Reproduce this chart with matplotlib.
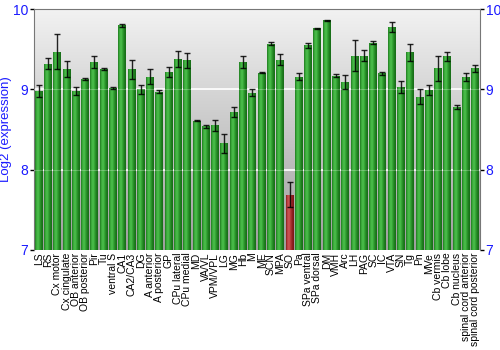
import numpy as np
import matplotlib
matplotlib.use("Agg")
import matplotlib.pyplot as plt
from matplotlib.colors import LinearSegmentedColormap

plt.rcParams["font.family"] = ["Liberation Sans", "DejaVu Sans"]

regions = [
    "LS", "RS", "Cx motor", "Cx cingulate", "OB anterior", "OB posterior",
    "Pir", "Tu", "ventral S", "CA1", "CA2/CA3", "DG", "A anterior",
    "A posterior", "GP", "CPu lateral", "CPu medial", "MD", "VA/VL",
    "VPM/VPL", "LG", "MG", "Hb", "M", "ME", "SCN", "MPA", "SO", "Pa",
    "SPa ventral", "SPa dorsal", "DM", "VMH", "Arc", "LH", "PAG", "SC",
    "IC", "VTA", "SN", "Tg", "Pn", "MVe", "Cb vermis", "Cb lobe",
    "Cb nucleus", "spinal cord anterior", "spinal cord posterior",
]
expression = [
    8.98, 9.32, 9.47, 9.25, 8.98, 9.13, 9.34, 9.25, 9.02, 9.80, 9.25, 9.00,
    9.16, 8.97, 9.22, 9.38, 9.36, 8.61, 8.54, 8.55, 8.33, 8.72, 9.34, 8.96,
    9.21, 9.57, 9.37, 7.69, 9.16, 9.55, 9.76, 9.86, 9.17, 9.09, 9.42, 9.42,
    9.58, 9.20, 9.78, 9.03, 9.46, 8.91, 8.99, 9.26, 9.41, 8.78, 9.16, 9.26,
]
errors = [
    0.07, 0.07, 0.22, 0.10, 0.05, 0.01, 0.08, 0.01, 0.01, 0.02, 0.12, 0.06,
    0.09, 0.02, 0.06, 0.10, 0.09, 0.01, 0.02, 0.07, 0.12, 0.06, 0.07, 0.04,
    0.01, 0.02, 0.07, 0.16, 0.04, 0.03, 0.01, 0.01, 0.02, 0.09, 0.19, 0.07,
    0.02, 0.02, 0.06, 0.08, 0.11, 0.09, 0.06, 0.15, 0.06, 0.02, 0.05, 0.04,
]
highlight = "SO"

blue = "#1a1aff"
green_cmap = LinearSegmentedColormap.from_list(
    "g", ["#1f7a1f", "#3fb03f", "#4cc04c", "#33a033", "#1e7f1e", "#176a17"])
red_cmap = LinearSegmentedColormap.from_list(
    "r", ["#8a1c1c", "#c44a4a", "#cc5555", "#b03535", "#8e2020", "#7a1616"])
bg_cmap = LinearSegmentedColormap.from_list("bg", ["#9e9e9e", "#f2f2f2"])

fig = plt.figure(figsize=(5, 3.5), dpi=100)
ax = fig.add_axes([0.068, 0.286, 0.892, 0.688])

x = np.arange(len(regions))
ax.set_xlim(-0.5, len(regions) - 0.5)
ax.set_ylim(7, 10)

# gray vertical gradient background
grad = np.linspace(0, 1, 256).reshape(-1, 1)
ax.imshow(grad, cmap=bg_cmap, aspect="auto", origin="lower",
          extent=(-0.5, len(regions) - 0.5, 7, 10), zorder=0)

for yv in (8, 9):
    ax.axhline(yv, color="white", lw=1.2, zorder=1)

bars = ax.bar(x, np.array(expression) - 7, bottom=7, width=0.86,
              color="none", edgecolor="none", zorder=2)

hgrad = np.linspace(0, 1, 64).reshape(1, -1)
for name, b in zip(regions, bars):
    cmap = red_cmap if name == highlight else green_cmap
    im = ax.imshow(hgrad, cmap=cmap, aspect="auto",
                   extent=(b.get_x(), b.get_x() + b.get_width(),
                           7, b.get_y() + b.get_height()), zorder=2)
    im.set_clip_path(b)

# faint grid over bars
for yv in (8, 9):
    ax.axhline(yv, color="white", lw=0.8, alpha=0.25, zorder=3)

ax.errorbar(x, expression, yerr=errors, fmt="none", ecolor="black",
            elinewidth=1.0, capsize=2.2, capthick=1.0, alpha=0.85, zorder=4)

ax.set_xticks(x)
ax.set_xticklabels(regions, rotation=90, fontsize=7.5)
ax.tick_params(axis="x", length=0, pad=2)

ax.set_yticks([7, 8, 9, 10])
ax.tick_params(axis="y", which="both", left=True, right=True,
               labelleft=True, labelright=True, labelcolor=blue,
               labelsize=10, length=3, width=1, pad=1)
ax.set_ylabel("Log2 (expression)", color=blue, fontsize=9.5, labelpad=1)

for side in ("left", "right", "top"):
    ax.spines[side].set_color("#777777")
ax.spines["bottom"].set_visible(False)

fig.savefig("out.png", dpi=100)
